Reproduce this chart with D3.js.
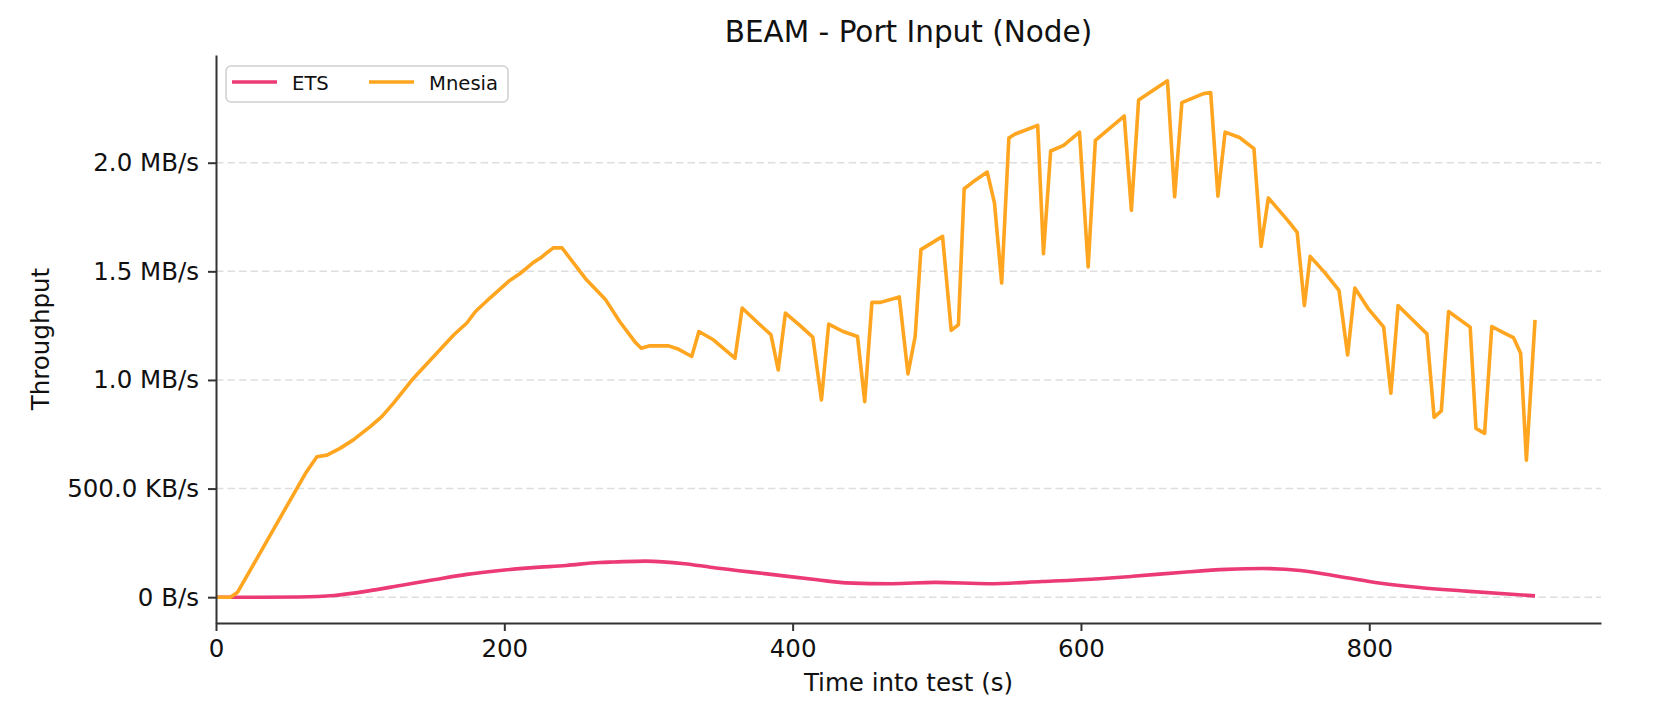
<!DOCTYPE html>
<html>
<head>
<meta charset="utf-8">
<script src="https://cdn.jsdelivr.net/npm/d3@7"></script>
<style>
  body { margin: 0; background: #fff; }
  text { font-family: "DejaVu Sans", sans-serif; fill: #111; }
</style>
</head>
<body>
<div id="chart"></div>
<script>
// Series: time in s, throughput in MB/s
var etsTime = [0, 30, 58, 82, 105, 128, 151, 174, 197, 220, 243, 266, 276, 298, 325, 343, 385, 417, 437, 469, 499, 536, 573, 613, 636, 671, 701, 726, 752, 775, 803, 833, 867, 915];
var etsRate = [0, 0, 0.001, 0.008, 0.028, 0.054, 0.080, 0.105, 0.123, 0.136, 0.146, 0.160, 0.162, 0.166, 0.154, 0.138, 0.105, 0.080, 0.066, 0.062, 0.068, 0.062, 0.072, 0.085, 0.096, 0.115, 0.128, 0.132, 0.123, 0.100, 0.069, 0.046, 0.028, 0.006];

var mnesiaTime = [0, 10, 15, 62, 70, 77, 86, 95, 107, 115, 123, 137, 151, 165, 174, 180, 190, 203, 211, 220, 225, 230, 234, 240,
    257, 270, 280, 291, 295, 301, 314, 321, 330, 335, 345, 360, 365, 376, 385, 390, 395, 405, 414, 420, 425, 435, 445, 450,
    455, 461, 474, 480, 485, 489, 504, 510, 515, 519, 525, 535, 540, 545, 550, 554, 570, 574, 579, 588, 599, 605, 610, 630,
    635, 640, 660, 665, 670, 685, 690, 695, 700, 710, 720, 725, 730, 744, 750, 755, 759, 769, 779, 785, 790, 799, 810, 815,
    820, 830, 840, 845, 850, 855, 870, 874, 880, 885, 893, 900, 905, 909, 915];
var mnesiaRate = [0, 0, 0.023, 0.569, 0.646, 0.654, 0.685, 0.723, 0.785, 0.831, 0.892, 1.008, 1.108, 1.208, 1.262, 1.315, 1.377, 1.454, 1.490, 1.540, 1.561, 1.588, 1.608, 1.608,
    1.461, 1.372, 1.269, 1.172, 1.146, 1.157, 1.157, 1.141, 1.108, 1.223, 1.185, 1.100, 1.331, 1.262, 1.208, 1.046, 1.308, 1.251, 1.197, 0.908, 1.257, 1.223, 1.200, 0.900,
    1.357, 1.357, 1.382, 1.028, 1.200, 1.600, 1.661, 1.228, 1.254, 1.880, 1.911, 1.957, 1.815, 1.446, 2.114, 2.131, 2.172, 1.581, 2.054, 2.080, 2.141, 1.520, 2.103, 2.215,
    1.781, 2.289, 2.377, 1.843, 2.277, 2.318, 2.323, 1.846, 2.141, 2.116, 2.065, 1.615, 1.838, 1.730, 1.679, 1.342, 1.569, 1.495, 1.412, 1.115, 1.423, 1.331, 1.243, 0.939,
    1.342, 1.277, 1.212, 0.828, 0.858, 1.315, 1.243, 0.777, 0.754, 1.246, 1.218, 1.195, 1.123, 0.631, 1.277];

var seriesNames = ["ETS", "Mnesia"];
var seriesColors = ["#ec3a75", "#ffa51f"];

var xTicks = [0, 200, 400, 600, 800];
var yTicks = [0, 0.5, 1.0, 1.5, 2.0];
var yTickLabels = ["0 B/s", "500.0 KB/s", "1.0 MB/s", "1.5 MB/s", "2.0 MB/s"];

// Dimensions and margins
var W = 1666, H = 718;
var margin = { top: 55, right: 65, bottom: 95, left: 216 },
    width = W - margin.left - margin.right,
    height = H - margin.top - margin.bottom;

var svg = d3.select("#chart")
    .append("svg")
    .attr("width", W)
    .attr("height", H);

var g = svg.append("g")
    .attr("transform", "translate(" + margin.left + "," + margin.top + ")");

var ets = etsTime.map(function (t, i) { return { t: t, v: etsRate[i] }; });
var mnesia = mnesiaTime.map(function (t, i) { return { t: t, v: mnesiaRate[i] }; });

// X scale starts at 0, 5% padding on the right
var xMax = d3.max(mnesiaTime);
var x = d3.scaleLinear()
    .domain([0, xMax * 1.05])
    .range([0, width]);

// Y scale with 5% padding both ways
var yMin = Math.min(d3.min(etsRate), d3.min(mnesiaRate)),
    yMax = Math.max(d3.max(etsRate), d3.max(mnesiaRate)),
    yPad = (yMax - yMin) * 0.05;
var y = d3.scaleLinear()
    .domain([yMin - yPad, yMax + yPad])
    .range([height, 0]);

// Horizontal dashed grid
g.append("g")
    .selectAll("line")
    .data(yTicks)
    .enter().append("line")
    .attr("x1", 0)
    .attr("x2", width)
    .attr("y1", function (d) { return y(d); })
    .attr("y2", function (d) { return y(d); })
    .attr("stroke", "#dedede")
    .attr("stroke-width", 1.5)
    .attr("stroke-dasharray", "7.5,4");

// Lines
var line = d3.line()
    .x(function (d) { return x(d.t); })
    .y(function (d) { return y(d.v); });

g.append("path")
    .datum(ets)
    .attr("fill", "none")
    .attr("stroke", seriesColors[0])
    .attr("stroke-width", 3.6)
    .attr("stroke-linejoin", "round")
    .attr("d", line.curve(d3.curveMonotoneX));

g.append("path")
    .datum(mnesia)
    .attr("fill", "none")
    .attr("stroke", seriesColors[1])
    .attr("stroke-width", 3.6)
    .attr("stroke-linejoin", "round")
    .attr("d", line.curve(d3.curveLinear));

// Axes
var xAxis = g.append("g")
    .attr("transform", "translate(0," + height + ")")
    .call(d3.axisBottom(x).tickValues(xTicks).tickSize(8).tickPadding(9).tickSizeOuter(0));

var yAxis = g.append("g")
    .call(d3.axisLeft(y).tickValues(yTicks).tickSize(8).tickPadding(9).tickSizeOuter(0)
        .tickFormat(function (d, i) { return yTickLabels[i]; }));

[xAxis, yAxis].forEach(function (a) {
    a.select(".domain").attr("stroke", "#333").attr("stroke-width", 2);
    a.selectAll(".tick line").attr("stroke", "#333").attr("stroke-width", 2);
    a.selectAll(".tick text")
        .style("font-family", "DejaVu Sans")
        .style("font-size", "24.5px")
        .attr("fill", "#111");
});

// Title and axis labels
svg.append("text")
    .attr("x", margin.left + width / 2)
    .attr("y", 42)
    .attr("text-anchor", "middle")
    .style("font-size", "29.5px")
    .text("BEAM - Port Input (Node)");

svg.append("text")
    .attr("x", margin.left + width / 2)
    .attr("y", 691)
    .attr("text-anchor", "middle")
    .style("font-size", "24.5px")
    .text("Time into test (s)");

svg.append("text")
    .attr("transform", "translate(49," + (margin.top + height / 2) + ") rotate(-90)")
    .attr("text-anchor", "middle")
    .style("font-size", "24.5px")
    .text("Throughput");

// Legend
var legend = g.append("g")
    .attr("transform", "translate(10,11)");

legend.append("rect")
    .attr("width", 282)
    .attr("height", 36)
    .attr("rx", 5)
    .attr("fill", "#fff")
    .attr("fill-opacity", 0.8)
    .attr("stroke", "#d0d0d0")
    .attr("stroke-width", 1.5);

var item = legend.selectAll(".item")
    .data(seriesNames)
    .enter().append("g")
    .attr("transform", function (d, i) { return "translate(" + [6, 143][i] + ",0)"; });

item.append("line")
    .attr("x1", 0).attr("x2", 45)
    .attr("y1", 16).attr("y2", 16)
    .attr("stroke", function (d, i) { return seriesColors[i]; })
    .attr("stroke-width", 3.6);

item.append("text")
    .attr("x", 60)
    .attr("y", 23.5)
    .style("font-size", "19.6px")
    .text(function (d) { return d; });
</script>
</body>
</html>
